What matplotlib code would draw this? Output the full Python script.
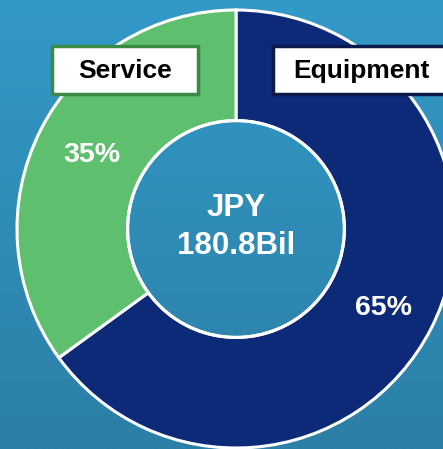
import matplotlib.pyplot as plt
from matplotlib.colors import LinearSegmentedColormap
from matplotlib.patches import Rectangle
import numpy as np

segments = ["Equipment", "Service"]
shares = [65, 35]
share_labels = ["65%", "35%"]
total_label = "JPY\n180.8Bil"

seg_colors = ["#0c2a78", "#5ebf6e"]
box_edges = ["#0b1a4a", "#3a8a46"]

plt.rcParams["font.family"] = ["Liberation Sans", "DejaVu Sans"]

W, H = 443, 449
fig = plt.figure(figsize=(W / 100, H / 100), dpi=100)

# background gradient
bg = fig.add_axes([0, 0, 1, 1])
bg.axis("off")
cmap = LinearSegmentedColormap.from_list("bg", ["#3399c8", "#2c7fa6"])
bg.imshow(np.linspace(0, 1, 256).reshape(-1, 1), aspect="auto", cmap=cmap,
          extent=[0, 1, 0, 1])
bg.set_xlim(0, 1)
bg.set_ylim(0, 1)

# donut: centre (236, 229) px, outer radius 219 px
cx, cy, R = 236, 229, 219
ax = fig.add_axes([(cx - R) / W, 1 - (cy + R) / H, 2 * R / W, 2 * R / H])
wedges, _ = ax.pie(shares, colors=seg_colors, startangle=90, counterclock=False,
                   radius=1, wedgeprops=dict(width=0.505, edgecolor="white",
                                             linewidth=2.2))
ax.add_patch(plt.Circle((0, 0), 0.495, fill=False, edgecolor="white", lw=2.2))
ax.set_xlim(-1, 1)
ax.set_ylim(-1, 1)
ax.axis("off")

# percentage labels
ax.text((384 - cx) / R, -(308 - cy) / R, share_labels[0], color="white",
        fontsize=20.5, fontweight="bold", ha="center", va="center")
ax.text((92 - cx) / R, -(155 - cy) / R, share_labels[1], color="white",
        fontsize=20.5, fontweight="bold", ha="center", va="center")
ax.text(0, -(227 - cy) / R, total_label, color="white", fontsize=22.5,
        fontweight="bold", ha="center", va="center", linespacing=1.38)

# legend boxes
boxes = [(273, 46, 176, 48, 361), (52, 46, 146, 48, 125)]
for (x0, y0, w, h, tx), name, ec in zip(boxes, segments, box_edges):
    fig.patches.append(Rectangle((x0 / W, 1 - (y0 + h) / H), w / W, h / H,
                                 transform=fig.transFigure, facecolor="white",
                                 edgecolor=ec, linewidth=2.5))
    fig.text(tx / W, 1 - 71 / H, name, fontsize=19, fontweight="bold",
             color="black", ha="center", va="center")

fig.savefig("out.png", dpi=100)
